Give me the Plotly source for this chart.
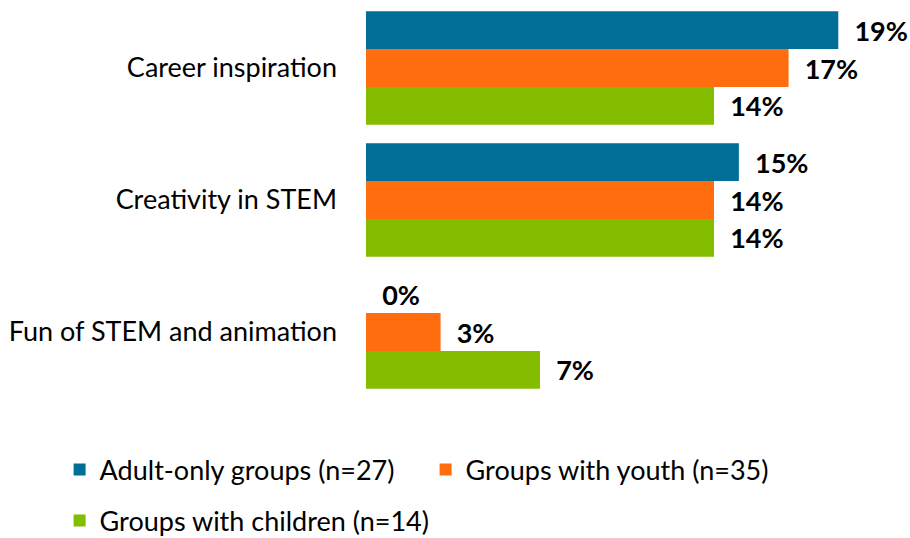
import plotly.graph_objects as go

categories = ["Career inspiration", "Creativity in STEM", "Fun of STEM and animation"]
series_names = ["Adult-only groups (n=27)", "Groups with youth (n=35)", "Groups with children (n=14)"]
adult_only = [19, 15, 0]
with_youth = [17, 14, 3]
with_children = [14, 14, 7]

colors = ["#006e96", "#ff6d0f", "#84bc00"]
font_family = "Lato, Carlito, 'Open Sans', sans-serif"

# one small legend per entry so each can sit in its own slot below the bars
legend_ids = ["legend", "legend2", "legend3"]
legend_slots = [(59.6, 470), (425.6, 470), (59.6, 521)]

fig = go.Figure()
for name, vals, color, leg in zip(series_names, [adult_only, with_youth, with_children], colors, legend_ids):
    fig.add_trace(go.Bar(
        y=categories, x=vals, name=name, orientation="h",
        marker=dict(color=color, line=dict(width=0)),
        text=[f"\u00a0\u00a0{v}%" for v in vals],
        textposition="outside", cliponaxis=False,
        textfont=dict(family=font_family, size=27, color="#000000", weight="bold"),
        legend=leg,
    ))

legend_layout = {}
for leg, (px, py) in zip(legend_ids, legend_slots):
    legend_layout[leg] = dict(
        orientation="h", xref="container", yref="container",
        x=px / 910, y=1 - py / 538, xanchor="left", yanchor="middle",
        font=dict(size=27), bgcolor="rgba(0,0,0,0)",
    )

fig.update_layout(
    width=910, height=538,
    margin=dict(l=366, r=22, t=2, b=140),
    paper_bgcolor="white", plot_bgcolor="white",
    barmode="group", bargap=0.14, bargroupgap=0,
    font=dict(family=font_family, size=27, color="#000000"),
    xaxis=dict(range=[0, 21], visible=False, showgrid=False, zeroline=False),
    yaxis=dict(autorange="reversed", showgrid=False, zeroline=False, showline=False,
               ticks="", ticklabelstandoff=28, tickfont=dict(size=27)),
    showlegend=True,
    **legend_layout,
)

fig.write_html("out.html")
